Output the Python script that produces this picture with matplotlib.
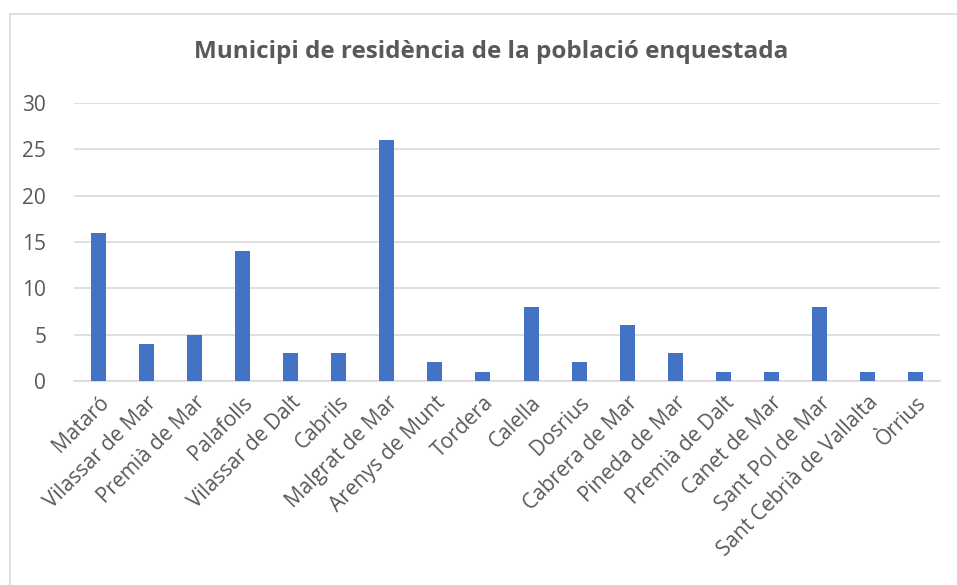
import matplotlib
matplotlib.use("Agg")
import matplotlib.pyplot as plt
from matplotlib.patches import Rectangle

categories = ["Mataró", "Vilassar de Mar", "Premià de Mar", "Palafolls", "Vilassar de Dalt",
              "Cabrils", "Malgrat de Mar", "Arenys de Munt", "Tordera", "Calella", "Dosrius",
              "Cabrera de Mar", "Pineda de Mar", "Premià de Dalt", "Canet de Mar",
              "Sant Pol de Mar", "Sant Cebrià de Vallalta", "Òrrius"]
values = [16, 4, 5, 14, 3, 3, 26, 2, 1, 8, 2, 6, 3, 1, 1, 8, 1, 1]
yticks = [0, 5, 10, 15, 20, 25, 30]
title = "Municipi de residència de la població enquestada"

plt.rcParams['font.family'] = ['Open Sans', 'DejaVu Sans']
txt = "#595959"

fig = plt.figure(figsize=(9.57, 5.85), dpi=100)
fig.patches.append(Rectangle((9.5/957, -0.1), 1.2, 1.1 - 14.5/585, transform=fig.transFigure,
                             fill=False, edgecolor="#D9D9D9", lw=1.2))
ax = fig.add_axes([74/957, 1 - 381/585, (940 - 74)/957, (381 - 103)/585])

x = list(range(len(categories)))
ax.bar(x, values, width=0.31, color="#4472C4", zorder=3)
ax.set_xlim(-0.5, len(categories) - 0.5)
ax.set_ylim(0, 30)
ax.set_yticks(yticks)
ax.set_yticklabels([str(v) for v in yticks], fontsize=15, color=txt)
ax.set_xticks(x)
ax.set_xticklabels(categories, rotation=45, ha="right", rotation_mode="anchor",
                   fontsize=15, color=txt)
ax.tick_params(axis="both", length=0)
ax.tick_params(axis="y", pad=20)
ax.tick_params(axis="x", pad=8)
ax.grid(axis="y", color="#D9D9D9", lw=1.2, zorder=0)
for s in ["top", "right", "left"]:
    ax.spines[s].set_visible(False)
ax.spines["bottom"].set_color("#D9D9D9")
ax.spines["bottom"].set_linewidth(1.2)

fig.text(491/957, 1 - 52/585, title, ha="center", va="center", fontsize=17.5,
         fontweight="bold", color=txt)

fig.savefig("out.png", dpi=100)
